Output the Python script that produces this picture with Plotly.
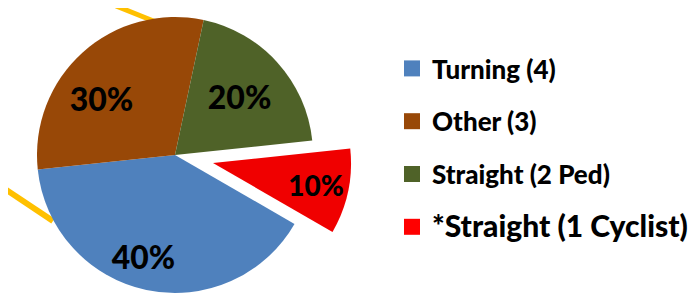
import plotly.graph_objects as go

# ---- data ----
labels = ["Turning (4)", "Other (3)", "Straight (2 Ped)", "*Straight (1 Cyclist)"]
values = [4, 3, 2, 1]
colors = ["#4F81BD", "#984807", "#4F6228", "#F00000"]
legend_colors = ["#4F81BD", "#984807", "#4F6228", "#FF0000"]

W, H = 697, 293
R = 138
CX, CY = 167, 147          # main pie centre (px)
PX, PY = 205, 155          # centre of the pulled-out slice (px)

def dom(cx, cy, r):
    return dict(x=[(cx - r) / W, (cx + r) / W],
                y=[max(0, (H - (cy + r)) / H), min(1, (H - (cy - r)) / H)])

T = "rgba(0,0,0,0)"
INV = '<span style="color:rgba(0,0,0,0)">%s</span>'
P = "%{percent:.0%}"
font_txt = dict(family="Lato", size=32, color="black", weight=900)

# label layout inside slices (invisible padding nudges the visible text)
tmpl_main = [INV % "0" + "<br>" + P + INV % "40%",
             P + INV % "3%",
             P,
             ""]
tmpl_pull = ["", "", "", P]

fig = go.Figure()
# main pie (pulled slice left transparent)
fig.add_trace(go.Pie(
    labels=labels, values=values, sort=False, direction="clockwise", rotation=120,
    marker=dict(colors=colors[:3] + [T], line=dict(width=0)),
    texttemplate=tmpl_main, textposition="inside",
    insidetextorientation="horizontal",
    insidetextfont=font_txt, domain=dom(CX, CY, R), showlegend=False, hoverinfo="skip"))
# pulled-out slice
fig.add_trace(go.Pie(
    labels=labels, values=values, sort=False, direction="clockwise", rotation=120,
    marker=dict(colors=[T, T, T, colors[3]], line=dict(width=0)),
    texttemplate=tmpl_pull, textposition="inside",
    insidetextorientation="horizontal",
    insidetextfont=font_txt, domain=dom(PX, PY, R), showlegend=False, hoverinfo="skip"))

# legend entries
for i, (lab, c) in enumerate(zip(labels, legend_colors)):
    name = lab if i < 3 else '<span style="font-size:30px">' + lab + '</span>'
    fig.add_trace(go.Scatter(x=[None], y=[None], mode="markers", name=name,
                             legendgroup=str(i),
                             marker=dict(symbol="square", size=16, color=c)))

fig.add_shape(type="line", xref="paper", yref="paper", layer="below",
              x0=108 / W, y0=1 - (-2) / H, x1=148 / W, y1=1 - 14 / H,
              line=dict(color="#FFC000", width=5))
fig.add_shape(type="line", xref="paper", yref="paper", layer="below",
              x0=-6 / W, y0=1 - 179 / H, x1=45 / W, y1=1 - 213 / H,
              line=dict(color="#FFC000", width=6))

fig.update_layout(
    width=W, height=H, margin=dict(l=0, r=0, t=0, b=0),
    paper_bgcolor="white", plot_bgcolor="white",
    xaxis=dict(visible=False, domain=[0.99, 1]), yaxis=dict(visible=False, domain=[0.99, 1]),
    legend=dict(x=384 / W, xanchor="left", y=1 - 37 / H, yanchor="top",
                font=dict(family="Lato", size=26, color="black", weight=900),
                tracegroupgap=16, bgcolor="rgba(0,0,0,0)"),
)
fig.write_html("out.html")
